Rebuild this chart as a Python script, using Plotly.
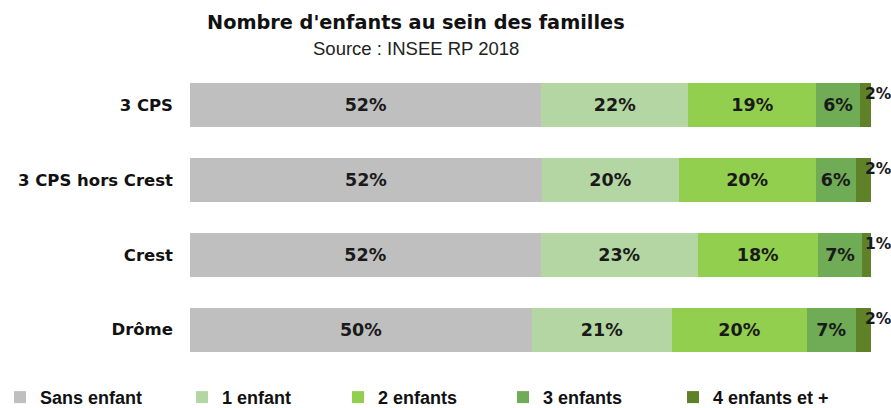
import plotly.graph_objects as go

categories = ["3 CPS", "3 CPS hors Crest", "Crest", "Drôme"]
series_names = ["Sans enfant", "1 enfant", "2 enfants", "3 enfants", "4 enfants et +"]
sans_enfant = [51.6, 51.7, 51.5, 50.2]
un_enfant = [21.6, 20.1, 23.1, 20.6]
deux_enfants = [18.8, 20.1, 17.6, 19.8]
trois_enfants = [6.4, 5.9, 6.6, 7.2]
quatre_plus = [1.6, 2.2, 1.2, 2.2]
colors = ["#bfbfbf", "#b3d6a3", "#93cf4f", "#6fac55", "#5f8127"]

series = [sans_enfant, un_enfant, deux_enfants, trois_enfants, quatre_plus]

# pixel geometry of the plot area
L, R, T, B, W, H = 190, 20, 67.5, 40.5, 891, 408
PW = W - L - R
PH = H - T - B
legend_px = [0, 182, 338, 503, 673]  # left edge of each legend item (px)

fig = go.Figure()
label_font = dict(family="DejaVu Sans", size=17.5, color="#1a1a1a")
small_font = dict(family="DejaVu Sans", size=15.5, color="#1a1a1a")
legend_ids = ["legend"] + [f"legend{i}" for i in range(2, len(series) + 1)]
for i, (name, vals, col) in enumerate(zip(series_names, series, colors)):
    last = i == len(series) - 1
    fig.add_trace(go.Bar(
        y=categories, x=vals, name=name, orientation="h",
        marker=dict(color=col, line=dict(width=0)),
        text=None if last else [f"{v:.0f}%" for v in vals],
        textposition="none" if last else "inside",
        insidetextanchor="middle", textangle=0, constraintext="none",
        textfont=label_font,
        texttemplate=None if last else "<b>%{text}</b>",
        hoverinfo="skip",
        legend=legend_ids[i],
    ))

# small last-segment labels placed just past the bar end
for cat, *vals in zip(categories, *series):
    total = sum(vals)
    fig.add_annotation(
        x=total, y=cat, xref="x", yref="y",
        text=f"<b>{vals[-1]:.0f}%</b>", showarrow=False,
        xanchor="left", xshift=-8, yshift=11,
        font=small_font,
    )

title_x = (416 - L) / PW
fig.add_annotation(
    text="<b>Nombre d'enfants au sein des familles</b>",
    xref="paper", yref="paper", x=title_x, y=1, yshift=46,
    xanchor="center", yanchor="middle", showarrow=False,
    font=dict(family="DejaVu Sans", size=19.3, color="#111111"),
)
fig.add_annotation(
    text="Source : INSEE RP 2018",
    xref="paper", yref="paper", x=title_x, y=1, yshift=20,
    xanchor="center", yanchor="middle", showarrow=False,
    font=dict(family="Liberation Sans", size=18.5, color="#222222"),
)

legend_font = dict(family="Liberation Sans", size=18, color="#111111", weight="bold")
legend_layout = {}
for lid, px in zip(legend_ids, legend_px):
    legend_layout[lid] = dict(
        orientation="h", x=(px - L) / PW, xanchor="left",
        y=-(398 - (T + PH)) / PH, yanchor="middle",
        itemwidth=30, font=legend_font, bgcolor="rgba(0,0,0,0)",
        itemclick=False, itemdoubleclick=False,
    )

fig.update_layout(
    width=W, height=H,
    margin=dict(l=L, r=R, t=T, b=B, autoexpand=False),
    barmode="stack", bargap=0.41,
    plot_bgcolor="white", paper_bgcolor="white",
    showlegend=True,
    xaxis=dict(range=[0, 100.05], visible=False, fixedrange=True),
    yaxis=dict(
        autorange="reversed", showgrid=False, showline=False, zeroline=False,
        ticks="", ticklabelstandoff=16, automargin=False,
        tickfont=dict(family="DejaVu Sans", size=16.5, color="#111111"),
        tickvals=categories, ticktext=[f"<b>{c}</b>" for c in categories],
        fixedrange=True,
    ),
    **legend_layout,
)

fig.write_html("out.html", config={"displayModeBar": False},
               post_script="document.body.style.margin='0';")
